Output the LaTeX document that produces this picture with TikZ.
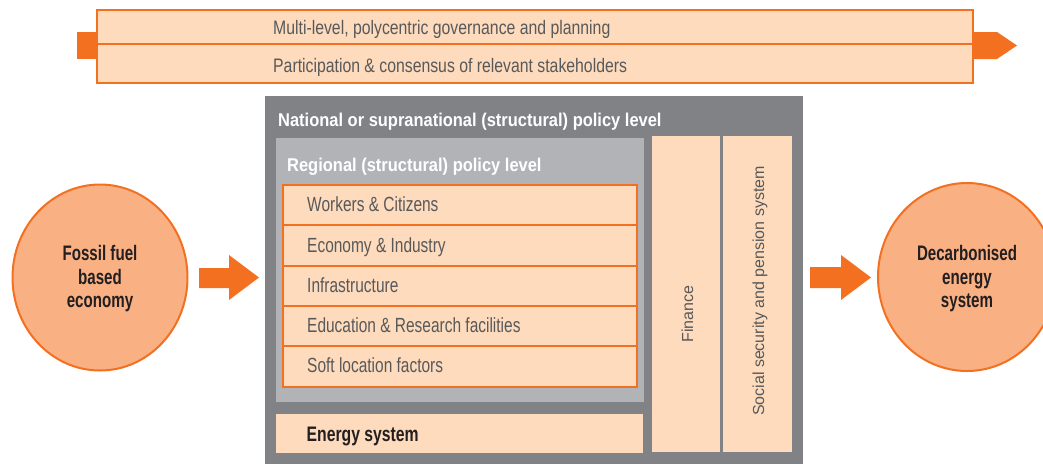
\documentclass[tikz,border=0pt]{standalone}
\usepackage{fontspec}
\setmainfont{Liberation Sans}
\newfontfamily\condf{Liberation Sans}[FakeStretch=0.755]
\newfontfamily\condtop{Liberation Sans}[FakeStretch=0.81]
\newfontfamily\condtitle{Liberation Sans}[FakeStretch=0.89]
\newfontfamily\condcirc{Liberation Sans}[FakeStretch=0.72]
\newfontfamily\condenergy{Liberation Sans}[FakeStretch=0.75]
\usetikzlibrary{fit,shapes.geometric}
\definecolor{orng}{HTML}{F37021}
\definecolor{peach}{HTML}{FDDBBC}
\definecolor{salmon}{HTML}{F9B083}
\definecolor{dgray}{HTML}{808285}
\definecolor{lgray}{HTML}{B1B3B6}
\definecolor{txt}{HTML}{58595B}
\definecolor{dark}{HTML}{231F20}
\tikzset{
  box/.style={inner sep=0pt, outer sep=0pt},
  peachbox/.style={box, fill=peach, draw=orng, line width=2pt},
  plainpeach/.style={box, fill=peach},
  itemtxt/.style={anchor=base west, inner sep=0pt, text=txt, font=\condf\fontsize{20.5}{24}\selectfont},
  toptxt/.style={itemtxt, font=\condtop\fontsize{19.5}{23}\selectfont},
  titletxt/.style={anchor=base west, inner sep=0pt, text=white, font=\condtitle\bfseries\fontsize{18.5}{22}\selectfont},
  circ/.style={ellipse, fill=salmon, draw=orng, line width=2pt, inner sep=0pt},
  circtxt/.style={align=center, text=dark, inner sep=0pt, font=\condcirc\bfseries\fontsize{21}{23.5}\selectfont},
  vtxt/.style={rotate=90, inner sep=0pt, text=txt, font=\fontsize{16}{18}\selectfont},
  blockarrow/.style={fill=orng}
}
\begin{document}
\begin{tikzpicture}[x=1pt,y=-1pt]
\useasboundingbox (0,0) rectangle (1043,464);

% top bar arrows
\fill[blockarrow] (77,32) rectangle (97,59);
\fill[blockarrow] (973,32) -- (997,32) -- (1017,45.5) -- (997,59) -- (973,59) -- cycle;
\node[peachbox, fit={(97,10) (973,44)}] (gov) {};
\node[peachbox, fit={(97,44) (973,83)}] (part) {};
\node[toptxt] (govt) at (273,34.3) {Multi-level, polycentric governance and planning};
\node[toptxt] (partt) at (273,72.7) {Participation \& consensus of relevant stakeholders};

% national box
\node[box, fill=dgray, fit={(265,96) (803,464)}] (nat) {};
\node[titletxt] (natt) at (278,126.7) {National or supranational (structural) policy level};
\node[box, fill=lgray, fit={(276,138) (644,402)}] (reg) {};
\node[titletxt] (regt) at (287,171.7) {Regional (structural) policy level};

% list
\node[peachbox, fit={(283,185) (637,225.3)}] (r1) {};
\node[peachbox, fit={(283,225.3) (637,265.6)}] (r2) {};
\node[peachbox, fit={(283,265.6) (637,306)}] (r3) {};
\node[peachbox, fit={(283,306) (637,346.3)}] (r4) {};
\node[peachbox, fit={(283,346.3) (637,386.6)}] (r5) {};
\node[itemtxt] (r1t) at (307,211.7) {Workers \& Citizens};
\node[itemtxt] (r2t) at (307,252.2) {Economy \& Industry};
\node[itemtxt] (r3t) at (307,292.5) {Infrastructure};
\node[itemtxt] (r4t) at (307,332.5) {Education \& Research facilities};
\node[itemtxt] (r5t) at (307,372) {Soft location factors};

% energy system
\node[plainpeach, fit={(276,414) (643,453)}] (en) {};
\node[itemtxt, text=dark, font=\condenergy\bfseries\fontsize{21}{24}\selectfont] (ent) at (306.5,441.7) {Energy system};

% columns
\node[plainpeach, fit={(652,136) (720,452)}] (fin) {};
\node[plainpeach, fit={(723,136) (792,452)}] (soc) {};
\node[vtxt] (fint) at (687.5,314) {Finance};
\node[vtxt] (soct) at (760,291) {Social security and pension system};

% circles
\node[circ, minimum width=175pt, minimum height=186pt] (fossil) at (100,277.5) {};
\node[circtxt] (fossilt) at (100,279) {Fossil fuel\\based\\economy};
\node[circ, minimum width=178pt, minimum height=188pt] (decarb) at (967,277) {};
\node[circtxt] (decarbt) at (967,279) {Decarbonised\\energy\\system};

% block arrows
\fill[blockarrow] (199,268) -- (229,268) -- (229,255) -- (259,277.5) -- (229,300) -- (229,288) -- (199,288) -- cycle;
\fill[blockarrow] (810,267) -- (841,267) -- (841,255) -- (871,277.5) -- (841,300) -- (841,288) -- (810,288) -- cycle;
\end{tikzpicture}
\end{document}
